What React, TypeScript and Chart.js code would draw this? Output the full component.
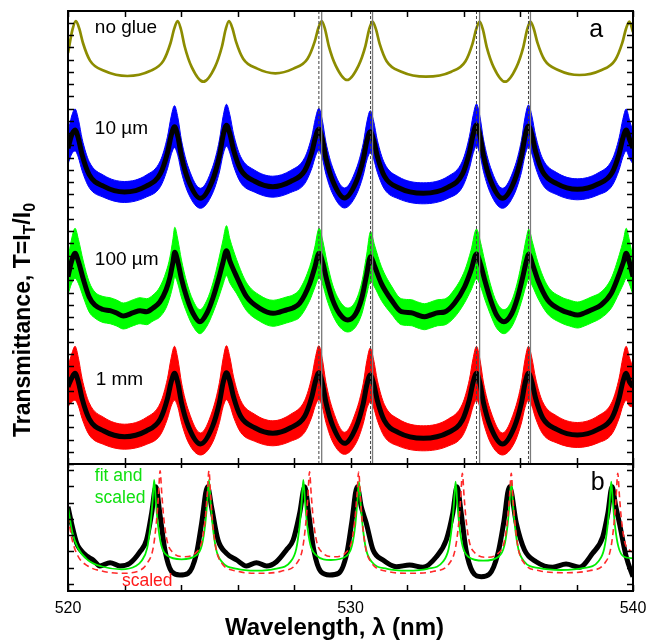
import React, { useEffect, useRef } from "react";
import { Chart, registerables } from "chart.js";

Chart.register(...registerables);

// ---------- Panel a (offset transmittance, arbitrary units) ----------
const lamNoGlue = [520.0, 520.16, 520.28, 520.40, 520.53, 520.78, 521.3, 522.1, 522.9, 523.38, 523.63, 523.76, 523.88, 524.0, 524.13, 524.38, 524.79, 525.20, 525.45, 525.58, 525.70, 525.82, 525.95, 526.20, 526.7, 527.34, 527.98, 528.48, 528.73, 528.86, 528.98, 529.10, 529.23, 529.48, 529.88, 530.28, 530.53, 530.66, 530.78, 530.90, 531.03, 531.28, 531.8, 532.67, 533.57, 534.07, 534.32, 534.45, 534.57, 534.69, 534.82, 535.07, 535.47, 535.87, 536.12, 536.25, 536.37, 536.49, 536.62, 536.87, 537.37, 538.1, 538.87, 539.37, 539.62, 539.75, 539.87, 540.0];
const noGlue = [41.1, 43.46, 44.3, 43.53, 42.1, 40.34, 39.3, 38.8, 39.3, 40.34, 42.1, 43.53, 44.3, 43.45, 41.75, 39.69, 38.23, 39.69, 41.75, 43.45, 44.3, 43.57, 42.21, 40.53, 39.54, 39.07, 39.54, 40.53, 42.21, 43.57, 44.3, 43.47, 41.82, 39.82, 38.4, 39.82, 41.82, 43.47, 44.25, 43.48, 42.04, 40.28, 39.23, 38.73, 39.23, 40.28, 42.04, 43.48, 44.25, 43.41, 41.72, 39.67, 38.23, 39.67, 41.72, 43.41, 44.25, 43.5, 42.11, 40.4, 39.38, 38.9, 39.38, 40.4, 42.11, 43.5, 44.25, 43.2];

const lamGlued = [520.0, 520.13, 520.25, 520.37, 520.50, 520.75, 521.27, 522.0, 522.77, 523.27, 523.52, 523.65, 523.77, 523.89, 524.02, 524.27, 524.69, 525.11, 525.36, 525.49, 525.61, 525.73, 525.86, 526.11, 526.61, 527.25, 527.88, 528.38, 528.63, 528.76, 528.88, 529.0, 529.13, 529.38, 529.79, 530.20, 530.45, 530.58, 530.70, 530.82, 530.95, 531.20, 531.7, 532.58, 533.46, 533.96, 534.21, 534.34, 534.46, 534.58, 534.71, 534.96, 535.38, 535.80, 536.05, 536.18, 536.30, 536.42, 536.55, 536.80, 537.3, 538.03, 538.76, 539.26, 539.51, 539.64, 539.76, 539.88, 540.0];
const glue10um = [31.57, 32.9, 33.4, 32.53, 30.92, 28.94, 27.76, 27.2, 27.79, 29.03, 31.12, 32.82, 33.73, 32.73, 30.72, 28.29, 26.57, 28.32, 30.8, 32.85, 33.87, 33.01, 31.41, 29.45, 28.28, 27.73, 28.25, 29.34, 31.17, 32.67, 33.47, 32.51, 30.58, 28.25, 26.6, 28.19, 30.45, 32.3, 33.23, 32.37, 30.77, 28.79, 27.62, 27.07, 27.68, 28.98, 31.17, 32.94, 33.9, 32.87, 30.82, 28.33, 26.57, 28.3, 30.76, 32.79, 33.8, 32.91, 31.27, 29.24, 28.04, 27.47, 28.0, 29.13, 31.03, 32.57, 33.4, 32.45, 31.6];
// half-width of the noisy (raw) trace around the smoothed curve
const noise10um = [1.6, 1.9, 2.1, 1.9, 1.6, 1.3, 1.1, 1.05, 1.1, 1.3, 1.6, 1.9, 2.1, 1.9, 1.6, 1.3, 1.0, 1.3, 1.6, 1.9, 2.1, 1.9, 1.6, 1.3, 1.1, 1.05, 1.1, 1.3, 1.6, 1.9, 2.1, 1.9, 1.6, 1.3, 1.0, 1.3, 1.6, 1.9, 2.1, 1.9, 1.6, 1.3, 1.1, 1.05, 1.1, 1.3, 1.6, 1.9, 2.1, 1.9, 1.6, 1.3, 1.0, 1.3, 1.6, 1.9, 2.1, 1.9, 1.6, 1.3, 1.1, 1.05, 1.1, 1.3, 1.6, 1.9, 2.1, 1.9, 1.6];
const glue1mm = [7.73, 8.6, 9.07, 8.18, 6.53, 4.51, 3.3, 2.73, 3.3, 4.51, 6.53, 8.18, 9.07, 8.08, 6.1, 3.7, 2.0, 3.71, 6.14, 8.13, 9.13, 8.28, 6.71, 4.77, 3.62, 3.07, 3.62, 4.77, 6.71, 8.28, 9.13, 8.14, 6.16, 3.76, 2.07, 3.71, 6.03, 7.94, 8.9, 8.01, 6.37, 4.34, 3.14, 2.57, 3.15, 4.39, 6.47, 8.16, 9.07, 8.08, 6.1, 3.7, 2.0, 3.7, 6.1, 8.08, 9.07, 8.21, 6.6, 4.63, 3.46, 2.9, 3.46, 4.63, 6.6, 8.21, 9.07, 8.18, 7.73];
const noise1mm = [2.0, 2.4, 2.7, 2.4, 2.0, 1.6, 1.35, 1.25, 1.35, 1.6, 2.0, 2.4, 2.7, 2.4, 2.0, 1.6, 1.1, 1.6, 2.0, 2.4, 2.7, 2.4, 2.0, 1.6, 1.35, 1.25, 1.35, 1.6, 2.0, 2.4, 2.7, 2.4, 2.0, 1.6, 1.1, 1.6, 2.0, 2.4, 2.7, 2.4, 2.0, 1.6, 1.35, 1.25, 1.35, 1.6, 2.0, 2.4, 2.7, 2.4, 2.0, 1.6, 1.1, 1.6, 2.0, 2.4, 2.7, 2.4, 2.0, 1.6, 1.35, 1.25, 1.35, 1.6, 2.0, 2.4, 2.7, 2.4, 2.0];

const lamGlue100 = [520.0, 520.12, 520.25, 520.37, 520.54, 520.75, 520.95, 521.24, 521.49, 521.72, 521.96, 522.31, 522.55, 522.78, 523.01, 523.25, 523.47, 523.61, 523.71, 523.78, 523.89, 524.01, 524.21, 524.42, 524.67, 524.92, 525.13, 525.34, 525.48, 525.61, 525.73, 525.97, 526.32, 526.79, 527.26, 527.5, 527.73, 527.96, 528.2, 528.56, 528.73, 528.89, 529.02, 529.16, 529.37, 529.62, 529.9, 530.18, 530.4, 530.57, 530.71, 530.85, 531.09, 531.45, 531.8, 532.15, 532.38, 532.62, 532.84, 533.09, 533.33, 533.68, 534.04, 534.27, 534.46, 534.6, 534.75, 534.96, 535.17, 535.43, 535.7, 535.91, 536.09, 536.21, 536.31, 536.44, 536.63, 536.98, 537.46, 537.75, 538.04, 538.28, 538.52, 538.87, 539.23, 539.52, 539.66, 539.76, 539.87, 540.0];
const glue100um = [18.73, 20.2, 21.07, 20.25, 18.5, 16.7, 15.9, 15.45, 15.33, 15.1, 14.8, 15.13, 15.33, 15.23, 15.6, 16.2, 17.4, 18.7, 20.1, 21.17, 20.2, 18.6, 16.6, 15.1, 14.23, 15.1, 16.6, 18.6, 20.1, 21.33, 20.3, 18.73, 16.73, 15.57, 15.07, 15.2, 15.4, 15.6, 16.07, 18.07, 19.6, 21.07, 20.1, 18.4, 16.4, 15.0, 14.4, 15.0, 16.6, 18.9, 20.73, 19.8, 18.07, 16.4, 15.23, 15.13, 14.9, 14.73, 14.9, 15.13, 15.2, 16.07, 17.73, 19.4, 21.0, 20.0, 18.4, 16.4, 14.9, 14.23, 15.0, 16.6, 18.6, 20.1, 20.97, 20.0, 18.4, 16.4, 15.4, 15.1, 14.9, 15.1, 15.4, 15.9, 17.07, 19.07, 20.2, 21.07, 20.2, 18.73];
const noise100um = [1.8, 2.2, 2.5, 2.2, 1.8, 1.5, 1.3, 1.3, 1.3, 1.3, 1.3, 1.3, 1.3, 1.3, 1.3, 1.5, 1.8, 2.0, 2.3, 2.5, 2.2, 1.9, 1.5, 1.3, 1.2, 1.3, 1.5, 1.9, 2.2, 2.5, 2.2, 1.7, 1.4, 1.3, 1.3, 1.3, 1.3, 1.3, 1.4, 1.7, 2.0, 2.5, 2.2, 1.9, 1.5, 1.3, 1.2, 1.3, 1.6, 2.0, 2.5, 2.1, 1.7, 1.4, 1.3, 1.3, 1.3, 1.3, 1.3, 1.3, 1.3, 1.4, 1.6, 2.0, 2.5, 2.2, 1.9, 1.5, 1.3, 1.2, 1.3, 1.6, 2.0, 2.3, 2.5, 2.2, 1.8, 1.4, 1.3, 1.3, 1.3, 1.3, 1.3, 1.3, 1.5, 1.9, 2.2, 2.5, 2.2, 1.8];

// positions of the peaks marked by vertical lines
const peaksNoGlue = [528.98, 530.78, 534.57, 536.37];
const peaksGlued = [528.88, 530.71, 534.46, 536.30];

// ---------- Panel b ----------
const lamMeasB = [520.0, 520.14, 520.31, 520.42, 520.66, 520.89, 521.13, 521.49, 521.84, 522.19, 522.55, 522.78, 522.96, 523.11, 523.25, 523.43, 523.67, 523.96, 524.25, 524.55, 524.73, 524.94, 525.08, 525.31, 525.61, 525.97, 526.32, 526.67, 527.03, 527.38, 527.73, 527.97, 528.2, 528.38, 528.52, 528.7, 528.95, 529.26, 529.58, 529.87, 530.04, 530.24, 530.38, 530.56, 530.8, 531.15, 531.62, 532.09, 532.56, 533.04, 533.39, 533.62, 533.77, 533.92, 534.09, 534.32, 534.63, 534.92, 535.22, 535.42, 535.63, 535.87, 536.16, 536.57, 537.16, 537.63, 538.1, 538.57, 538.93, 539.11, 539.26, 539.38, 539.52, 539.76, 540.0];
const measB = [8.43, 6.6, 4.77, 4.2, 3.5, 3.1, 2.5, 2.83, 2.5, 2.77, 3.93, 5.1, 7.77, 10.43, 7.77, 4.1, 1.93, 1.6, 1.77, 3.77, 6.77, 10.43, 8.43, 5.1, 3.77, 3.1, 2.5, 2.83, 2.5, 2.93, 4.1, 5.1, 7.77, 10.43, 7.77, 4.1, 1.93, 1.6, 1.77, 3.77, 6.77, 10.43, 8.43, 6.77, 4.1, 3.1, 2.43, 2.6, 2.37, 3.43, 5.1, 7.77, 10.43, 7.77, 4.1, 1.93, 1.43, 1.7, 3.77, 6.77, 10.43, 6.77, 4.1, 2.93, 2.37, 2.7, 2.37, 3.77, 5.43, 7.77, 10.43, 8.6, 6.77, 3.43, 1.43];

const lamFitB = [520.0, 520.15, 520.35, 520.7, 521.2, 521.9, 522.4, 522.6, 522.8, 522.92, 522.99, 523.05, 523.11, 523.18, 523.30, 523.50, 524.02, 524.54, 524.74, 524.86, 524.93, 524.99, 525.05, 525.12, 525.24, 525.44, 525.99, 526.66, 527.33, 527.88, 528.08, 528.20, 528.27, 528.33, 528.39, 528.46, 528.58, 528.78, 529.31, 529.85, 530.05, 530.17, 530.24, 530.30, 530.36, 530.43, 530.55, 530.75, 531.30, 532.01, 532.72, 533.27, 533.47, 533.59, 533.66, 533.72, 533.78, 533.85, 533.97, 534.17, 534.70, 535.24, 535.44, 535.56, 535.63, 535.69, 535.75, 535.82, 535.94, 536.14, 536.69, 537.46, 538.23, 538.78, 538.98, 539.10, 539.17, 539.23, 539.29, 539.36, 539.48, 539.68, 540.0];
const fitScaledB = [8.43, 5.9, 4.3, 3.1, 2.45, 2.17, 2.5, 3.0, 4.26, 6.6, 8.85, 11.1, 8.96, 6.74, 4.6, 3.57, 3.17, 3.57, 4.6, 6.74, 8.96, 11.1, 8.83, 6.56, 4.21, 2.94, 2.21, 2.03, 2.21, 2.94, 4.21, 6.56, 8.83, 11.1, 8.97, 6.75, 4.62, 3.59, 3.1, 3.49, 4.51, 6.62, 8.82, 10.93, 8.7, 6.48, 4.17, 2.92, 2.21, 2.03, 2.21, 2.92, 4.17, 6.48, 8.7, 10.93, 8.8, 6.59, 4.46, 3.43, 3.03, 3.43, 4.46, 6.59, 8.8, 10.93, 8.72, 6.51, 4.22, 2.98, 2.28, 2.1, 2.28, 2.98, 4.22, 6.51, 8.72, 10.93, 8.8, 6.59, 4.46, 3.43, 3.27];

const lamScaledB = [520.0, 520.15, 520.35, 520.7, 521.2, 521.9, 522.5, 522.81, 523.01, 523.13, 523.20, 523.26, 523.32, 523.39, 523.51, 523.71, 524.12, 524.54, 524.74, 524.86, 524.93, 524.99, 525.05, 525.12, 525.24, 525.44, 525.99, 526.77, 527.55, 528.10, 528.30, 528.42, 528.49, 528.55, 528.61, 528.68, 528.80, 529.00, 529.42, 529.84, 530.04, 530.16, 530.23, 530.29, 530.35, 530.42, 530.54, 530.74, 531.29, 532.12, 532.95, 533.51, 533.71, 533.83, 533.90, 533.96, 534.02, 534.09, 534.21, 534.41, 534.83, 535.24, 535.44, 535.56, 535.63, 535.69, 535.75, 535.82, 535.94, 536.14, 536.69, 537.58, 538.46, 539.01, 539.21, 539.33, 539.40, 539.46, 539.52, 539.59, 539.71, 539.91, 540.0];
const scaledB = [7.43, 5.1, 3.5, 2.5, 2.0, 1.77, 2.0, 2.8, 4.23, 6.9, 9.46, 12.03, 9.71, 7.3, 4.98, 3.86, 3.43, 3.86, 4.98, 7.3, 9.71, 12.03, 9.46, 6.9, 4.23, 2.8, 1.98, 1.77, 1.98, 2.79, 4.2, 6.85, 9.39, 11.93, 9.63, 7.25, 4.96, 3.85, 3.43, 3.85, 4.96, 7.25, 9.63, 11.93, 9.4, 6.88, 4.25, 2.84, 1.97, 1.77, 1.97, 2.8, 4.22, 6.77, 9.27, 11.77, 9.5, 7.15, 4.88, 3.79, 3.37, 3.79, 4.88, 7.15, 9.5, 11.77, 9.28, 6.8, 4.22, 2.82, 2.03, 1.83, 2.03, 2.82, 4.22, 6.8, 9.28, 11.77, 9.5, 7.15, 4.88, 4.0, 3.9];

// ---------- axes ----------
const X_MIN = 520;
const X_MAX = 540;
const xLabelStep = 10;
const xMinorStep = 2;
const yAMax = 45.3;
const yBMax = 12.7;
const yATickStep = 1.225;
const yBTicks = [0.7, 2.33, 3.96, 5.59, 7.22, 8.85, 10.48, 12.11];

const FONT = '"Liberation Sans", Arial, Helvetica, sans-serif';

const pts = (xs: number[], ys: number[]) => {
  const n = Math.min(xs.length, ys.length);
  const out: { x: number; y: number }[] = [];
  for (let i = 0; i < n; i++) out.push({ x: xs[i], y: ys[i] });
  return out;
};

const overlayPlugin = {
  id: "overlay",
  afterDatasetsDraw(chart: any) {
    const { ctx, chartArea } = chart;
    const xs = chart.scales.x;
    const yA = chart.scales.yA;
    const yB = chart.scales.yB;
    const L = chartArea.left;
    const R = chartArea.right;
    ctx.save();
    ctx.strokeStyle = "#000";
    const seg = (x1: number, y1: number, x2: number, y2: number) => {
      ctx.beginPath();
      ctx.moveTo(x1, y1);
      ctx.lineTo(x2, y2);
      ctx.stroke();
    };
    ctx.lineWidth = 1.5;
    const tl = 6;
    for (let w = X_MIN; w <= X_MAX + 1e-9; w += xMinorStep) {
      const px = Math.round(xs.getPixelForValue(w)) + 0.5;
      seg(px, yA.top, px, yA.top + tl);
      seg(px, yA.bottom, px, yA.bottom - tl);
      seg(px, yB.top, px, yB.top + tl - 2);
      seg(px, yB.bottom, px, yB.bottom - tl);
    }
    for (let v = 0; v <= yAMax - 0.5; v += yATickStep) {
      const py = Math.round(yA.getPixelForValue(v)) + 0.5;
      seg(L, py, L + tl, py);
      seg(R, py, R - tl, py);
    }
    for (const v of yBTicks) {
      const py = Math.round(yB.getPixelForValue(v)) + 0.5;
      seg(L, py, L + tl, py);
      seg(R, py, R - tl, py);
    }
    ctx.lineWidth = 2;
    ctx.strokeRect(L, yA.top, R - L, yA.bottom - yA.top);
    ctx.strokeRect(L, yB.top, R - L, yB.bottom - yB.top);
    ctx.restore();
  },
  afterDraw(chart: any) {
    const { ctx, chartArea } = chart;
    const xs = chart.scales.x;
    const yA = chart.scales.yA;
    const yB = chart.scales.yB;
    ctx.save();
    ctx.textBaseline = "alphabetic";
    ctx.textAlign = "left";
    ctx.fillStyle = "#000";
    ctx.font = `19px ${FONT}`;
    const px = (w: number) => xs.getPixelForValue(w);
    ctx.fillText("no glue", px(520.95), yA.getPixelForValue(43.15));
    ctx.fillText("10 \u00b5m", px(520.95), yA.getPixelForValue(33.0));
    ctx.fillText("100 \u00b5m", px(520.95), yA.getPixelForValue(19.95));
    ctx.fillText("1 mm", px(520.98), yA.getPixelForValue(7.95));
    ctx.font = `25px ${FONT}`;
    ctx.fillText("a", px(538.45), yA.getPixelForValue(42.73));
    ctx.fillText("b", px(538.5), yB.getPixelForValue(10.1));
    ctx.font = `17.5px ${FONT}`;
    ctx.fillStyle = "#10e010";
    ctx.fillText("fit and", px(520.95), yB.getPixelForValue(11.05));
    ctx.fillText("scaled", px(520.95), yB.getPixelForValue(8.85));
    ctx.fillStyle = "#ff1a1a";
    ctx.fillText("scaled", px(521.91), yB.getPixelForValue(0.5));

    // x title
    ctx.fillStyle = "#000";
    ctx.font = `bold 24px ${FONT}`;
    ctx.textAlign = "center";
    const xc = (chartArea.left + chartArea.right) / 2 - 16;
    ctx.fillText("Wavelength, \u03bb (nm)", xc, chartArea.bottom + 44);

    // y title with subscripts
    const big = `bold 23px ${FONT}`;
    const small = `bold 16px ${FONT}`;
    const parts: [string, string, number][] = [
      ["Transmittance, T=I", big, 0],
      ["T", small, 5],
      ["/I", big, 0],
      ["0", small, 5],
    ];
    let total = 0;
    for (const [t, f] of parts) {
      ctx.font = f;
      total += ctx.measureText(t).width;
    }
    ctx.translate(30, 320);
    ctx.rotate(-Math.PI / 2);
    ctx.textAlign = "left";
    let cx = -total / 2;
    for (const [t, f, dy] of parts) {
      ctx.font = f;
      ctx.fillText(t, cx, dy);
      cx += ctx.measureText(t).width;
    }
    ctx.restore();
  },
};

export default function App() {
  const ref = useRef<HTMLCanvasElement | null>(null);
  useEffect(() => {
    if (!ref.current) return;
    const vSolid = peaksNoGlue.map((w) => ({
      data: [{ x: w, y: 0 }, { x: w, y: yAMax }],
      yAxisID: "yA",
      borderColor: "#7a7a7a",
      borderWidth: 1.3,
      tension: 0,
      cubicInterpolationMode: "default",
      order: 0,
    }));
    const vDash = peaksGlued.map((w) => ({
      data: [{ x: w, y: 0 }, { x: w, y: yAMax }],
      yAxisID: "yA",
      borderColor: "#444444",
      borderWidth: 1,
      borderDash: [3, 2],
      tension: 0,
      cubicInterpolationMode: "default",
      order: 0,
    }));
    // noisy raw trace drawn as a filled band between lower and upper envelopes
    const band = (xs: number[], ys: number[], amp: number[], color: string) => [
      {
        data: pts(xs, ys.map((v, i) => v - amp[i])),
        yAxisID: "yA",
        borderColor: color,
        borderWidth: 1,
        fill: false,
        order: 3,
      },
      {
        data: pts(xs, ys.map((v, i) => v + amp[i])),
        yAxisID: "yA",
        borderColor: color,
        backgroundColor: color,
        borderWidth: 1,
        fill: "-1",
        order: 3,
      },
    ];
    const center = (xs: number[], ys: number[]) => ({
      data: pts(xs, ys),
      yAxisID: "yA",
      borderColor: "#000000",
      borderWidth: 5,
      borderJoinStyle: "round",
      order: 2,
    });
    const chart = new Chart(ref.current, {
      type: "line",
      data: {
        datasets: [
          ...vSolid,
          ...vDash,
          { data: pts(lamNoGlue, noGlue), yAxisID: "yA", borderColor: "#8c8c00", borderWidth: 2.7, order: 2 },
          ...band(lamGlued, glue10um, noise10um, "#0000ff"),
          center(lamGlued, glue10um),
          ...band(lamGlue100, glue100um, noise100um, "#00ff00"),
          center(lamGlue100, glue100um),
          ...band(lamGlued, glue1mm, noise1mm, "#ff0000"),
          center(lamGlued, glue1mm),
          { data: pts(lamMeasB, measB), yAxisID: "yB", borderColor: "#000000", borderWidth: 5, borderJoinStyle: "round", order: 3 },
          { data: pts(lamFitB, fitScaledB), yAxisID: "yB", borderColor: "#00ee00", borderWidth: 1.8, order: 2 },
          { data: pts(lamScaledB, scaledB), yAxisID: "yB", borderColor: "#ff2a2a", borderWidth: 1.6, borderDash: [6, 4], order: 1 },
        ] as any,
      },
      options: {
        animation: false,
        responsive: false,
        events: [],
        layout: { padding: { left: 68, right: 24, top: 11, bottom: 0 } },
        datasets: { line: { clip: 0 } } as any,
        elements: {
          point: { radius: 0, hoverRadius: 0 },
          line: { cubicInterpolationMode: "monotone", fill: false },
        },
        plugins: { legend: { display: false }, tooltip: { enabled: false } },
        scales: {
          x: {
            type: "linear",
            position: "bottom",
            min: X_MIN,
            max: X_MAX,
            grid: { display: false, drawTicks: false },
            border: { display: false },
            ticks: {
              stepSize: xLabelStep,
              autoSkip: false,
              maxRotation: 0,
              padding: 8,
              color: "#000",
              font: { family: FONT, size: 16 },
            },
            afterFit: (s: any) => {
              s.height = 50;
            },
          },
          yB: {
            type: "linear",
            position: "left",
            stack: "panels",
            stackWeight: 127,
            min: 0,
            max: yBMax,
            grid: { display: false, drawTicks: false },
            border: { display: false },
            ticks: { display: false },
            afterFit: (s: any) => {
              s.width = 0;
            },
          },
          yA: {
            type: "linear",
            position: "left",
            stack: "panels",
            stackWeight: 453,
            min: 0,
            max: yAMax,
            grid: { display: false, drawTicks: false },
            border: { display: false },
            ticks: { display: false },
            afterFit: (s: any) => {
              s.width = 0;
            },
          },
        } as any,
      },
      plugins: [overlayPlugin],
    });
    return () => chart.destroy();
  }, []);
  return (
    <div style={{ position: "absolute", left: 0, top: 0, width: 657, height: 641, overflow: "hidden", background: "#fff" }}>
      <canvas ref={ref} width={657} height={641} style={{ width: 657, height: 641, display: "block" }} />
    </div>
  );
}
